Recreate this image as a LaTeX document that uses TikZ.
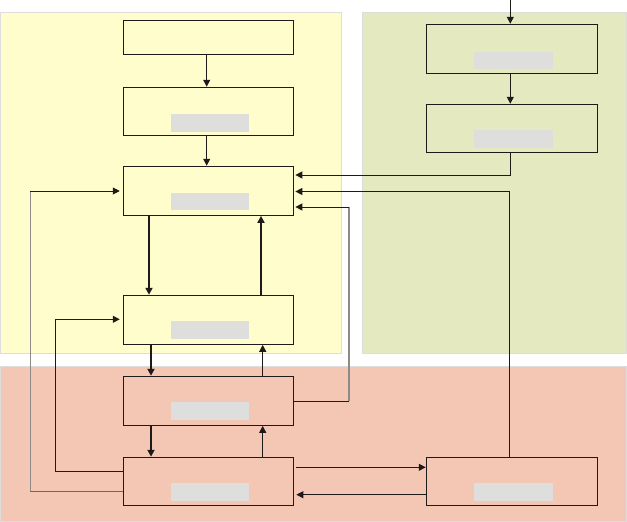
\documentclass[tikz,border=0pt]{standalone}
\usetikzlibrary{arrows.meta,calc}
\definecolor{yelbg}{HTML}{FFFDCB}
\definecolor{grnbg}{HTML}{E4E9C0}
\definecolor{pnkbg}{HTML}{F4C6B4}
\definecolor{regbd}{HTML}{DDDDDD}
\definecolor{barc}{HTML}{DEDEDC}
\definecolor{lnk}{HTML}{1E1A1A}
\definecolor{glnk}{HTML}{8F8A88}
\tikzset{
  region/.style={draw=regbd,line width=1pt},
  box/.style={draw=lnk,line width=1.1pt,minimum width=170pt,minimum height=49pt,inner sep=0pt},
  bar/.style={fill=barc,draw=none,minimum width=78pt,minimum height=17.6pt,inner sep=0pt},
  arr/.style={draw=lnk,line width=1pt,-{Triangle[length=7pt,width=7pt]}},
  thk/.style={draw=lnk,line width=2pt,-{Triangle[length=7pt,width=7pt]}},
  gline/.style={draw=glnk,line width=1.2pt},
}
\begin{document}
\begin{tikzpicture}[x=1pt,y=-1pt]
\useasboundingbox (0,0) rectangle (627,522);
% regions
\draw[region,fill=yelbg] (0.5,12.3) rectangle (341.7,353.3);
\draw[region,fill=grnbg] (362.3,12.3) rectangle (626.5,353.3);
\draw[region,fill=pnkbg] (0.5,366) rectangle (626.5,521.5);
% boxes
\node[box,minimum height=34pt] (A) at (208.3,37.2) {};
\node[box,minimum height=48pt] (B) at (208.3,111.3) {};
\node[box] (C) at (208.3,190.8) {};
\node[box] (D) at (208.3,319.8) {};
\node[box] (E) at (208.3,400.8) {};
\node[box,minimum height=48pt] (F) at (208.3,481.3) {};
\node[box,minimum width=171.4pt] (G) at (512,48.8) {};
\node[box,minimum width=171.4pt,minimum height=48.4pt] (H) at (512,128.5) {};
\node[box,minimum width=171pt,minimum height=48pt] (I) at (511.8,481.3) {};
% grey bars
\node[bar] (bB) at (210,122.8) {};
\node[bar] (bC) at (210,201.3) {};
\node[bar] (bD) at (210,330) {};
\node[bar] (bE) at (210,410.8) {};
\node[bar] (bF) at (210,492) {};
\node[bar,minimum width=79pt] (bG) at (513.5,60.3) {};
\node[bar,minimum width=79pt] (bH) at (513.5,138.8) {};
\node[bar,minimum width=79pt] (bI) at (513.5,491.8) {};
% helper coordinates
\coordinate (top) at (510.3,0);
\coordinate (lx) at (206.7,0);
\coordinate (rx) at (510.3,0);
\coordinate (ix) at (509.3,0);
\coordinate (dn1) at (149,0);
\coordinate (up1) at (261,0);
\coordinate (dn2) at (151,0);
\coordinate (up2) at (262.7,0);
\coordinate (h1) at (0,175);
\coordinate (h2) at (0,191.5);
\coordinate (h3) at (0,207);
\coordinate (ey) at (0,401.3);
\coordinate (ecorner) at (349,207);
\coordinate (ebot) at (349,401.3);
\coordinate (fy1) at (0,471.3);
\coordinate (fy2) at (0,491.3);
\coordinate (lc1) at (55.3,319.3);
\coordinate (lc2) at (30.3,191);
\coordinate (lbot) at (30.3,491.3);
\coordinate (py1) at (0,467.3);
\coordinate (py2) at (0,494.7);
% connectors
\draw[arr] (top) -- (G.north -| top);
\draw[arr] (G.south -| rx) -- (H.north -| rx);
\draw[arr] (A.south -| lx) -- (B.north -| lx);
\draw[arr] (B.south -| lx) -- (C.north -| lx);
\draw[arr,shorten >=1.5pt] (H.south -| rx) |- (C.east |- h1);
\draw[arr,shorten >=1.5pt] (I.north -| ix) |- (C.east |- h2);
% E -> C (grey vertical part, black horizontals)
\draw[gline] (ebot) -- (ecorner);
\draw[draw=lnk,line width=1pt] (E.east |- ey) -- (ebot);
\draw[arr,shorten >=1.5pt] (ecorner) -- (C.east |- h3);
% F -> C (grey vertical part, black horizontals)
\draw[gline] (lbot) -- (lc2);
\draw[draw=glnk!70!lnk,line width=1pt] (F.west |- fy2) -- (lbot);
\draw[arr,shorten >=3pt] (lc2) -- (C.west |- lc2);
\draw[arr,shorten >=3pt] (F.west |- fy1) -| (lc1) -- (D.west |- lc1);
\draw[thk] (C.south -| dn1) -- (D.north -| dn1);
\draw[thk] (D.north -| up1) -- (C.south -| up1);
\draw[thk] (D.south -| dn2) -- (E.north -| dn2);
\draw[arr] (E.north -| up2) -- (D.south -| up2);
\draw[thk] (E.south -| dn2) -- (F.north -| dn2);
\draw[arr] (F.north -| up2) -- (E.south -| up2);
\draw[arr,shorten <=2.5pt] (F.east |- py1) -- (I.west |- py1);
\draw[arr,shorten >=2.5pt] (I.west |- py2) -- (F.east |- py2);
\end{tikzpicture}
\end{document}
